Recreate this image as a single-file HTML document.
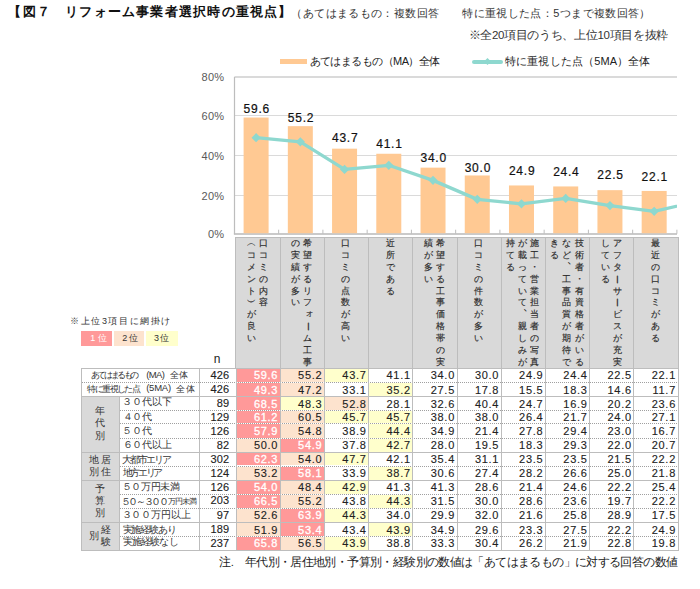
<!DOCTYPE html><html lang="ja"><head><meta charset="utf-8"><style>
*{margin:0;padding:0;box-sizing:border-box}
html,body{width:700px;height:589px;overflow:hidden;background:#fff}
body{position:relative;font-family:"Liberation Sans",sans-serif;color:#000}
.a{position:absolute;white-space:nowrap}
.hc{position:absolute;width:14px;height:14px;line-height:14px;text-align:center;font-size:9px;color:#2a2a2a;-webkit-text-stroke:0.15px #2a2a2a}
.gc{position:absolute;width:14px;height:14px;line-height:14px;text-align:center;font-size:9.5px;color:#333}
.c{position:absolute;white-space:nowrap;font-size:11px;line-height:13px;text-align:right;color:#222;-webkit-text-stroke:0.12px currentColor}
</style></head><body>
<div id="title" class="a" style="left:8.35px;top:3.38px;font-size:13px;line-height:17px;letter-spacing:1.213px;color:#111;font-weight:bold">【図７　リフォーム事業者選択時の重視点】</div>
<div id="sub" class="a" style="left:291.35px;top:5.65px;font-size:11px;line-height:14px;letter-spacing:0.387px;color:#333;">（あてはまるもの：複数回答　　特に重視した点：5つまで複数回答）</div>
<div id="note2" class="a" style="left:468.55px;top:27.53px;font-size:11.5px;line-height:14px;letter-spacing:-0.319px;color:#333;">※全20項目のうち、上位10項目を抜粋</div>
<div class="a" style="left:280px;top:59.2px;width:27px;height:5px;background:#FFC993"></div>
<div id="leg1" class="a" style="left:309.55px;top:54.38px;font-size:11px;line-height:14px;letter-spacing:-0.563px;color:#222;">あてはまるもの（MA）全体</div>
<div class="a" style="left:472px;top:60.2px;width:31px;height:3.5px;border-radius:2px;background:#8ED8CF"></div>
<div class="a" style="left:485px;top:59.2px;width:5px;height:5px;transform:rotate(45deg);background:#8ED8CF"></div>
<div id="leg2" class="a" style="left:505.00px;top:54.12px;font-size:11px;line-height:14px;letter-spacing:0.142px;color:#222;">特に重視した点（5MA）全体</div>
<div id="y80" class="a" style="left:149.45px;width:75px;text-align:right;top:70.35px;font-size:11px;line-height:14px;letter-spacing:0.325px;color:#595959">80%</div>
<div class="a" style="left:149.45px;width:75px;text-align:right;top:108.85px;font-size:11px;line-height:14px;letter-spacing:0.325px;color:#595959">60%</div>
<div class="a" style="left:149.45px;width:75px;text-align:right;top:148.85px;font-size:11px;line-height:14px;letter-spacing:0.325px;color:#595959">40%</div>
<div class="a" style="left:149.45px;width:75px;text-align:right;top:188.85px;font-size:11px;line-height:14px;letter-spacing:0.325px;color:#595959">20%</div>
<div class="a" style="left:149.45px;width:75px;text-align:right;top:227.25px;font-size:11px;line-height:14px;letter-spacing:0.325px;color:#595959">0%</div>
<svg class="a" style="left:0;top:0" width="700" height="589"><defs><clipPath id="cp"><rect x="234.4" y="67.0" width="442.6" height="167.2"/></clipPath></defs><rect x="234.4" y="115.00" width="442.6" height="1" fill="#DADADA"/><rect x="234.4" y="155.00" width="442.6" height="1" fill="#DADADA"/><rect x="234.4" y="195.00" width="442.6" height="1" fill="#DADADA"/><rect x="234.4" y="76.2" width="442.6" height="1.6" fill="#D2D2D2"/><rect x="233.9" y="77" width="1.2" height="157.20" fill="#BDBDBD"/><rect x="233.9" y="233.20" width="443.1" height="1.6" fill="#BDBDBD"/><rect x="278.15" y="229.70" width="1" height="4" fill="#BDBDBD"/><rect x="322.40" y="229.70" width="1" height="4" fill="#BDBDBD"/><rect x="366.65" y="229.70" width="1" height="4" fill="#BDBDBD"/><rect x="410.90" y="229.70" width="1" height="4" fill="#BDBDBD"/><rect x="455.15" y="229.70" width="1" height="4" fill="#BDBDBD"/><rect x="499.40" y="229.70" width="1" height="4" fill="#BDBDBD"/><rect x="543.65" y="229.70" width="1" height="4" fill="#BDBDBD"/><rect x="587.90" y="229.70" width="1" height="4" fill="#BDBDBD"/><rect x="632.15" y="229.70" width="1" height="4" fill="#BDBDBD"/><rect x="676.40" y="229.70" width="1" height="4" fill="#BDBDBD"/><rect x="243.60" y="117.53" width="25.0" height="115.67" fill="#FFC993"/><rect x="287.83" y="126.15" width="25.0" height="107.05" fill="#FFC993"/><rect x="332.06" y="148.66" width="25.0" height="84.54" fill="#FFC993"/><rect x="376.29" y="153.75" width="25.0" height="79.45" fill="#FFC993"/><rect x="420.52" y="167.64" width="25.0" height="65.56" fill="#FFC993"/><rect x="464.75" y="175.47" width="25.0" height="57.72" fill="#FFC993"/><rect x="508.98" y="185.46" width="25.0" height="47.74" fill="#FFC993"/><rect x="553.21" y="186.44" width="25.0" height="46.76" fill="#FFC993"/><rect x="597.44" y="190.16" width="25.0" height="43.04" fill="#FFC993"/><rect x="641.67" y="190.94" width="25.0" height="42.26" fill="#FFC993"/><path d="M256.10,137.70 L300.33,141.81 L344.56,169.41 L388.79,165.30 L433.02,180.37 L477.25,199.36 L521.48,203.86 L565.71,198.38 L609.94,205.62 L654.17,211.30 L698.40,201.31" fill="none" stroke="#8ED8CF" stroke-width="3.3" stroke-linejoin="round" clip-path="url(#cp)"/><path d="M256.10,133.10 L260.70,137.70 L256.10,142.30 L251.50,137.70Z" fill="#8ED8CF"/><path d="M300.33,137.21 L304.93,141.81 L300.33,146.41 L295.73,141.81Z" fill="#8ED8CF"/><path d="M344.56,164.81 L349.16,169.41 L344.56,174.01 L339.96,169.41Z" fill="#8ED8CF"/><path d="M388.79,160.70 L393.39,165.30 L388.79,169.90 L384.19,165.30Z" fill="#8ED8CF"/><path d="M433.02,175.77 L437.62,180.37 L433.02,184.97 L428.42,180.37Z" fill="#8ED8CF"/><path d="M477.25,194.76 L481.85,199.36 L477.25,203.96 L472.65,199.36Z" fill="#8ED8CF"/><path d="M521.48,199.26 L526.08,203.86 L521.48,208.46 L516.88,203.86Z" fill="#8ED8CF"/><path d="M565.71,193.78 L570.31,198.38 L565.71,202.98 L561.11,198.38Z" fill="#8ED8CF"/><path d="M609.94,201.02 L614.54,205.62 L609.94,210.22 L605.34,205.62Z" fill="#8ED8CF"/><path d="M654.17,206.70 L658.77,211.30 L654.17,215.90 L649.57,211.30Z" fill="#8ED8CF"/></svg>
<div id="b0" class="a" style="left:231.75px;width:50px;text-align:center;top:102.48px;font-size:12px;line-height:14px;letter-spacing:0.767px;color:#111;-webkit-text-stroke:0.2px #111">59.6</div>
<div class="a" style="left:275.98px;width:50px;text-align:center;top:110.98px;font-size:12px;line-height:14px;letter-spacing:0.767px;color:#111;-webkit-text-stroke:0.2px #111">55.2</div>
<div class="a" style="left:320.21px;width:50px;text-align:center;top:131.48px;font-size:12px;line-height:14px;letter-spacing:0.767px;color:#111;-webkit-text-stroke:0.2px #111">43.7</div>
<div class="a" style="left:364.44px;width:50px;text-align:center;top:136.58px;font-size:12px;line-height:14px;letter-spacing:0.767px;color:#111;-webkit-text-stroke:0.2px #111">41.1</div>
<div class="a" style="left:408.67px;width:50px;text-align:center;top:151.18px;font-size:12px;line-height:14px;letter-spacing:0.767px;color:#111;-webkit-text-stroke:0.2px #111">34.0</div>
<div class="a" style="left:452.90px;width:50px;text-align:center;top:160.98px;font-size:12px;line-height:14px;letter-spacing:0.767px;color:#111;-webkit-text-stroke:0.2px #111">30.0</div>
<div class="a" style="left:497.13px;width:50px;text-align:center;top:163.98px;font-size:12px;line-height:14px;letter-spacing:0.767px;color:#111;-webkit-text-stroke:0.2px #111">24.9</div>
<div class="a" style="left:541.36px;width:50px;text-align:center;top:165.28px;font-size:12px;line-height:14px;letter-spacing:0.767px;color:#111;-webkit-text-stroke:0.2px #111">24.4</div>
<div class="a" style="left:585.59px;width:50px;text-align:center;top:168.38px;font-size:12px;line-height:14px;letter-spacing:0.767px;color:#111;-webkit-text-stroke:0.2px #111">22.5</div>
<div class="a" style="left:629.82px;width:50px;text-align:center;top:169.68px;font-size:12px;line-height:14px;letter-spacing:0.767px;color:#111;-webkit-text-stroke:0.2px #111">22.1</div>
<div class="a" style="left:235.0px;top:236.6px;width:443.6px;height:131.6px;background:#D9D9D9;border:1px solid #BDBDBD;border-bottom:0"></div>
<div class="a" style="left:279.7px;top:236.6px;width:1px;height:131.6px;background:#BDBDBD"></div>
<div class="a" style="left:323.9px;top:236.6px;width:1px;height:131.6px;background:#BDBDBD"></div>
<div class="a" style="left:368.1px;top:236.6px;width:1px;height:131.6px;background:#BDBDBD"></div>
<div class="a" style="left:412.3px;top:236.6px;width:1px;height:131.6px;background:#BDBDBD"></div>
<div class="a" style="left:456.5px;top:236.6px;width:1px;height:131.6px;background:#BDBDBD"></div>
<div class="a" style="left:500.7px;top:236.6px;width:1px;height:131.6px;background:#BDBDBD"></div>
<div class="a" style="left:544.9px;top:236.6px;width:1px;height:131.6px;background:#BDBDBD"></div>
<div class="a" style="left:589.1px;top:236.6px;width:1px;height:131.6px;background:#BDBDBD"></div>
<div class="a" style="left:633.3px;top:236.6px;width:1px;height:131.6px;background:#BDBDBD"></div>
<div class="hc" style="left:256.60px;top:236.10px;">口</div>
<div class="hc" style="left:256.60px;top:247.97px;">コ</div>
<div class="hc" style="left:256.60px;top:259.84px;">ミ</div>
<div class="hc" style="left:256.60px;top:271.71px;">の</div>
<div class="hc" style="left:256.60px;top:283.58px;">内</div>
<div class="hc" style="left:256.60px;top:295.45px;">容</div>
<div class="hc" style="left:244.40px;top:236.10px;">︵</div>
<div class="hc" style="left:244.40px;top:247.97px;">コ</div>
<div class="hc" style="left:244.40px;top:259.84px;">メ</div>
<div class="hc" style="left:244.40px;top:271.71px;">ン</div>
<div class="hc" style="left:244.40px;top:283.58px;">ト</div>
<div class="hc" style="left:244.40px;top:295.45px;">︶</div>
<div class="hc" style="left:244.40px;top:307.32px;">が</div>
<div class="hc" style="left:244.40px;top:319.19px;">良</div>
<div class="hc" style="left:244.40px;top:331.06px;">い</div>
<div class="hc" style="left:300.80px;top:236.10px;">希</div>
<div class="hc" style="left:300.80px;top:247.97px;">望</div>
<div class="hc" style="left:300.80px;top:259.84px;">す</div>
<div class="hc" style="left:300.80px;top:271.71px;">る</div>
<div class="hc" style="left:300.80px;top:283.58px;">リ</div>
<div class="hc" style="left:300.80px;top:295.45px;">フ</div>
<div class="hc" style="left:300.80px;top:307.32px;transform:translate(1.5px,-1.5px);">ォ</div>
<div class="hc" style="left:300.80px;top:319.19px;transform:rotate(90deg);">ー</div>
<div class="hc" style="left:300.80px;top:331.06px;">ム</div>
<div class="hc" style="left:300.80px;top:342.93px;">工</div>
<div class="hc" style="left:300.80px;top:354.80px;">事</div>
<div class="hc" style="left:288.60px;top:236.10px;">の</div>
<div class="hc" style="left:288.60px;top:247.97px;">実</div>
<div class="hc" style="left:288.60px;top:259.84px;">績</div>
<div class="hc" style="left:288.60px;top:271.71px;">が</div>
<div class="hc" style="left:288.60px;top:283.58px;">多</div>
<div class="hc" style="left:288.60px;top:295.45px;">い</div>
<div class="hc" style="left:338.90px;top:236.10px;">口</div>
<div class="hc" style="left:338.90px;top:247.97px;">コ</div>
<div class="hc" style="left:338.90px;top:259.84px;">ミ</div>
<div class="hc" style="left:338.90px;top:271.71px;">の</div>
<div class="hc" style="left:338.90px;top:283.58px;">点</div>
<div class="hc" style="left:338.90px;top:295.45px;">数</div>
<div class="hc" style="left:338.90px;top:307.32px;">が</div>
<div class="hc" style="left:338.90px;top:319.19px;">高</div>
<div class="hc" style="left:338.90px;top:331.06px;">い</div>
<div class="hc" style="left:383.10px;top:236.10px;">近</div>
<div class="hc" style="left:383.10px;top:247.97px;">所</div>
<div class="hc" style="left:383.10px;top:259.84px;">で</div>
<div class="hc" style="left:383.10px;top:271.71px;">あ</div>
<div class="hc" style="left:383.10px;top:283.58px;">る</div>
<div class="hc" style="left:433.40px;top:236.10px;">希</div>
<div class="hc" style="left:433.40px;top:247.97px;">望</div>
<div class="hc" style="left:433.40px;top:259.84px;">す</div>
<div class="hc" style="left:433.40px;top:271.71px;">る</div>
<div class="hc" style="left:433.40px;top:283.58px;">工</div>
<div class="hc" style="left:433.40px;top:295.45px;">事</div>
<div class="hc" style="left:433.40px;top:307.32px;">価</div>
<div class="hc" style="left:433.40px;top:319.19px;">格</div>
<div class="hc" style="left:433.40px;top:331.06px;">帯</div>
<div class="hc" style="left:433.40px;top:342.93px;">の</div>
<div class="hc" style="left:433.40px;top:354.80px;">実</div>
<div class="hc" style="left:421.20px;top:236.10px;">績</div>
<div class="hc" style="left:421.20px;top:247.97px;">が</div>
<div class="hc" style="left:421.20px;top:259.84px;">多</div>
<div class="hc" style="left:421.20px;top:271.71px;">い</div>
<div class="hc" style="left:471.50px;top:236.10px;">口</div>
<div class="hc" style="left:471.50px;top:247.97px;">コ</div>
<div class="hc" style="left:471.50px;top:259.84px;">ミ</div>
<div class="hc" style="left:471.50px;top:271.71px;">の</div>
<div class="hc" style="left:471.50px;top:283.58px;">件</div>
<div class="hc" style="left:471.50px;top:295.45px;">数</div>
<div class="hc" style="left:471.50px;top:307.32px;">が</div>
<div class="hc" style="left:471.50px;top:319.19px;">多</div>
<div class="hc" style="left:471.50px;top:331.06px;">い</div>
<div class="hc" style="left:527.90px;top:236.10px;">施</div>
<div class="hc" style="left:527.90px;top:247.97px;">工</div>
<div class="hc" style="left:527.90px;top:259.84px;">・</div>
<div class="hc" style="left:527.90px;top:271.71px;">営</div>
<div class="hc" style="left:527.90px;top:283.58px;">業</div>
<div class="hc" style="left:527.90px;top:295.45px;">担</div>
<div class="hc" style="left:527.90px;top:307.32px;">当</div>
<div class="hc" style="left:527.90px;top:319.19px;">者</div>
<div class="hc" style="left:527.90px;top:331.06px;">の</div>
<div class="hc" style="left:527.90px;top:342.93px;">写</div>
<div class="hc" style="left:527.90px;top:354.80px;">真</div>
<div class="hc" style="left:515.70px;top:236.10px;">が</div>
<div class="hc" style="left:515.70px;top:247.97px;">載</div>
<div class="hc" style="left:515.70px;top:259.84px;">っ</div>
<div class="hc" style="left:515.70px;top:271.71px;">て</div>
<div class="hc" style="left:515.70px;top:283.58px;">い</div>
<div class="hc" style="left:515.70px;top:295.45px;">て</div>
<div class="hc" style="left:515.70px;top:307.32px;">︑</div>
<div class="hc" style="left:515.70px;top:319.19px;">親</div>
<div class="hc" style="left:515.70px;top:331.06px;">し</div>
<div class="hc" style="left:515.70px;top:342.93px;">み</div>
<div class="hc" style="left:515.70px;top:354.80px;">が</div>
<div class="hc" style="left:503.50px;top:236.10px;">持</div>
<div class="hc" style="left:503.50px;top:247.97px;">て</div>
<div class="hc" style="left:503.50px;top:259.84px;">る</div>
<div class="hc" style="left:572.10px;top:236.10px;">技</div>
<div class="hc" style="left:572.10px;top:247.97px;">術</div>
<div class="hc" style="left:572.10px;top:259.84px;">者</div>
<div class="hc" style="left:572.10px;top:271.71px;">・</div>
<div class="hc" style="left:572.10px;top:283.58px;">有</div>
<div class="hc" style="left:572.10px;top:295.45px;">資</div>
<div class="hc" style="left:572.10px;top:307.32px;">格</div>
<div class="hc" style="left:572.10px;top:319.19px;">者</div>
<div class="hc" style="left:572.10px;top:331.06px;">が</div>
<div class="hc" style="left:572.10px;top:342.93px;">い</div>
<div class="hc" style="left:572.10px;top:354.80px;">る</div>
<div class="hc" style="left:559.90px;top:236.10px;">な</div>
<div class="hc" style="left:559.90px;top:247.97px;">ど</div>
<div class="hc" style="left:559.90px;top:259.84px;">︑</div>
<div class="hc" style="left:559.90px;top:271.71px;">工</div>
<div class="hc" style="left:559.90px;top:283.58px;">事</div>
<div class="hc" style="left:559.90px;top:295.45px;">品</div>
<div class="hc" style="left:559.90px;top:307.32px;">質</div>
<div class="hc" style="left:559.90px;top:319.19px;">が</div>
<div class="hc" style="left:559.90px;top:331.06px;">期</div>
<div class="hc" style="left:559.90px;top:342.93px;">待</div>
<div class="hc" style="left:559.90px;top:354.80px;">で</div>
<div class="hc" style="left:547.70px;top:236.10px;">き</div>
<div class="hc" style="left:547.70px;top:247.97px;">る</div>
<div class="hc" style="left:610.20px;top:236.10px;">ア</div>
<div class="hc" style="left:610.20px;top:247.97px;">フ</div>
<div class="hc" style="left:610.20px;top:259.84px;">タ</div>
<div class="hc" style="left:610.20px;top:271.71px;transform:rotate(90deg);">ー</div>
<div class="hc" style="left:610.20px;top:283.58px;">サ</div>
<div class="hc" style="left:610.20px;top:295.45px;transform:rotate(90deg);">ー</div>
<div class="hc" style="left:610.20px;top:307.32px;">ビ</div>
<div class="hc" style="left:610.20px;top:319.19px;">ス</div>
<div class="hc" style="left:610.20px;top:331.06px;">が</div>
<div class="hc" style="left:610.20px;top:342.93px;">充</div>
<div class="hc" style="left:610.20px;top:354.80px;">実</div>
<div class="hc" style="left:598.00px;top:236.10px;">し</div>
<div class="hc" style="left:598.00px;top:247.97px;">て</div>
<div class="hc" style="left:598.00px;top:259.84px;">い</div>
<div class="hc" style="left:598.00px;top:271.71px;">る</div>
<div class="hc" style="left:648.30px;top:236.10px;">最</div>
<div class="hc" style="left:648.30px;top:247.97px;">近</div>
<div class="hc" style="left:648.30px;top:259.84px;">の</div>
<div class="hc" style="left:648.30px;top:271.71px;">口</div>
<div class="hc" style="left:648.30px;top:283.58px;">コ</div>
<div class="hc" style="left:648.30px;top:295.45px;">ミ</div>
<div class="hc" style="left:648.30px;top:307.32px;">が</div>
<div class="hc" style="left:648.30px;top:319.19px;">あ</div>
<div class="hc" style="left:648.30px;top:331.06px;">る</div>
<div id="hl" class="a" style="left:70.25px;top:315.38px;font-size:9px;line-height:13px;letter-spacing:1.561px;color:#333;">※上位3項目に網掛け</div>
<div class="a" style="left:81.3px;top:330.9px;width:31px;height:14.8px;background:#FF9999"></div>
<div class="a" style="left:114.2px;top:330.9px;width:30px;height:14.8px;background:#FDE3CE"></div>
<div class="a" style="left:145.6px;top:330.9px;width:32.6px;height:14.8px;background:#FFFFCC"></div>
<div id="p1" class="a" style="left:90.15px;top:332.47px;font-size:9px;line-height:13px;letter-spacing:0.125px;color:#fff;">1 位</div>
<div id="p2" class="a" style="left:122.25px;top:332.47px;font-size:9px;line-height:13px;letter-spacing:1.250px;color:#333;">2位</div>
<div id="p3" class="a" style="left:153.90px;top:332.47px;font-size:9px;line-height:13px;letter-spacing:-0.475px;color:#333;">3 位</div>
<div id="n" class="a" style="left:213.85px;top:352.17px;font-size:12px;line-height:14px;letter-spacing:0.000px;color:#222;">n</div>
<div class="a" style="left:81.3px;top:367.5px;width:597.4px;height:183.5px;background:#fff;border:1px solid #BDBDBD"></div>
<div class="a" style="left:236.50px;top:368.50px;width:43.20px;height:13.50px;background:#FF9999"></div>
<div id="v0" class="c" style="left:237.00px;width:41.20px;top:369.42px;letter-spacing:0.717px;color:#fff;-webkit-text-stroke:0.3px #fff">59.6</div>
<div class="a" style="left:280.70px;top:368.50px;width:43.20px;height:13.50px;background:#FDE3CE"></div>
<div class="c" style="left:281.20px;width:41.20px;top:369.42px;letter-spacing:0.717px;color:#222">55.2</div>
<div class="a" style="left:324.90px;top:368.50px;width:43.20px;height:13.50px;background:#FFFFCC"></div>
<div class="c" style="left:325.40px;width:41.20px;top:369.42px;letter-spacing:0.717px;color:#222">43.7</div>
<div class="c" style="left:369.60px;width:41.20px;top:369.42px;letter-spacing:0.717px;color:#222">41.1</div>
<div class="c" style="left:413.80px;width:41.20px;top:369.42px;letter-spacing:0.717px;color:#222">34.0</div>
<div class="c" style="left:458.00px;width:41.20px;top:369.42px;letter-spacing:0.717px;color:#222">30.0</div>
<div class="c" style="left:502.20px;width:41.20px;top:369.42px;letter-spacing:0.717px;color:#222">24.9</div>
<div class="c" style="left:546.40px;width:41.20px;top:369.42px;letter-spacing:0.717px;color:#222">24.4</div>
<div class="c" style="left:590.60px;width:41.20px;top:369.42px;letter-spacing:0.717px;color:#222">22.5</div>
<div class="c" style="left:634.80px;width:41.20px;top:369.42px;letter-spacing:0.717px;color:#222">22.1</div>
<div id="n426" class="c" style="left:198.80px;width:30.40px;top:368.73px;letter-spacing:0.100px">426</div>
<div class="a" style="left:81.8px;top:382.00px;width:596.2px;height:1px;background-image:linear-gradient(90deg,#A0A0A0 50%,rgba(255,255,255,0) 50%);background-size:2px 1px"></div>
<div class="a" style="left:236.50px;top:383.00px;width:43.20px;height:12.80px;background:#FF9999"></div>
<div class="c" style="left:237.00px;width:41.20px;top:383.57px;letter-spacing:0.717px;color:#fff;-webkit-text-stroke:0.3px #fff">49.3</div>
<div class="a" style="left:280.70px;top:383.00px;width:43.20px;height:12.80px;background:#FDE3CE"></div>
<div class="c" style="left:281.20px;width:41.20px;top:383.57px;letter-spacing:0.717px;color:#222">47.2</div>
<div class="c" style="left:325.40px;width:41.20px;top:383.57px;letter-spacing:0.717px;color:#222">33.1</div>
<div class="a" style="left:369.10px;top:383.00px;width:43.20px;height:12.80px;background:#FFFFCC"></div>
<div class="c" style="left:369.60px;width:41.20px;top:383.57px;letter-spacing:0.717px;color:#222">35.2</div>
<div class="c" style="left:413.80px;width:41.20px;top:383.57px;letter-spacing:0.717px;color:#222">27.5</div>
<div class="c" style="left:458.00px;width:41.20px;top:383.57px;letter-spacing:0.717px;color:#222">17.8</div>
<div class="c" style="left:502.20px;width:41.20px;top:383.57px;letter-spacing:0.717px;color:#222">15.5</div>
<div class="c" style="left:546.40px;width:41.20px;top:383.57px;letter-spacing:0.717px;color:#222">18.3</div>
<div class="c" style="left:590.60px;width:41.20px;top:383.57px;letter-spacing:0.717px;color:#222">14.6</div>
<div class="c" style="left:634.80px;width:41.20px;top:383.57px;letter-spacing:0.717px;color:#222">11.7</div>
<div class="c" style="left:198.80px;width:30.40px;top:382.88px;letter-spacing:0.100px">426</div>
<div class="a" style="left:81.8px;top:395.80px;width:596.2px;height:1.2px;background:#BDBDBD"></div>
<div class="a" style="left:236.50px;top:396.80px;width:43.20px;height:13.20px;background:#FF9999"></div>
<div class="c" style="left:237.00px;width:41.20px;top:397.57px;letter-spacing:0.717px;color:#fff;-webkit-text-stroke:0.3px #fff">68.5</div>
<div class="a" style="left:280.70px;top:396.80px;width:43.20px;height:13.20px;background:#FFFFCC"></div>
<div class="c" style="left:281.20px;width:41.20px;top:397.57px;letter-spacing:0.717px;color:#222">48.3</div>
<div class="a" style="left:324.90px;top:396.80px;width:43.20px;height:13.20px;background:#FDE3CE"></div>
<div class="c" style="left:325.40px;width:41.20px;top:397.57px;letter-spacing:0.717px;color:#222">52.8</div>
<div class="c" style="left:369.60px;width:41.20px;top:397.57px;letter-spacing:0.717px;color:#222">28.1</div>
<div class="c" style="left:413.80px;width:41.20px;top:397.57px;letter-spacing:0.717px;color:#222">32.6</div>
<div class="c" style="left:458.00px;width:41.20px;top:397.57px;letter-spacing:0.717px;color:#222">40.4</div>
<div class="c" style="left:502.20px;width:41.20px;top:397.57px;letter-spacing:0.717px;color:#222">24.7</div>
<div class="c" style="left:546.40px;width:41.20px;top:397.57px;letter-spacing:0.717px;color:#222">16.9</div>
<div class="c" style="left:590.60px;width:41.20px;top:397.57px;letter-spacing:0.717px;color:#222">20.2</div>
<div class="c" style="left:634.80px;width:41.20px;top:397.57px;letter-spacing:0.717px;color:#222">23.6</div>
<div class="c" style="left:198.80px;width:30.40px;top:396.88px;letter-spacing:0.100px">89</div>
<div class="a" style="left:119.6px;top:410.00px;width:558.4px;height:1px;background-image:linear-gradient(90deg,#A0A0A0 50%,rgba(255,255,255,0) 50%);background-size:2px 1px"></div>
<div class="a" style="left:236.50px;top:411.00px;width:43.20px;height:12.40px;background:#FF9999"></div>
<div class="c" style="left:237.00px;width:41.20px;top:411.37px;letter-spacing:0.717px;color:#fff;-webkit-text-stroke:0.3px #fff">61.2</div>
<div class="a" style="left:280.70px;top:411.00px;width:43.20px;height:12.40px;background:#FDE3CE"></div>
<div class="c" style="left:281.20px;width:41.20px;top:411.37px;letter-spacing:0.717px;color:#222">60.5</div>
<div class="a" style="left:324.90px;top:411.00px;width:43.20px;height:12.40px;background:#FFFFCC"></div>
<div class="c" style="left:325.40px;width:41.20px;top:411.37px;letter-spacing:0.717px;color:#222">45.7</div>
<div class="a" style="left:369.10px;top:411.00px;width:43.20px;height:12.40px;background:#FFFFCC"></div>
<div class="c" style="left:369.60px;width:41.20px;top:411.37px;letter-spacing:0.717px;color:#222">45.7</div>
<div class="c" style="left:413.80px;width:41.20px;top:411.37px;letter-spacing:0.717px;color:#222">38.0</div>
<div class="c" style="left:458.00px;width:41.20px;top:411.37px;letter-spacing:0.717px;color:#222">38.0</div>
<div class="c" style="left:502.20px;width:41.20px;top:411.37px;letter-spacing:0.717px;color:#222">26.4</div>
<div class="c" style="left:546.40px;width:41.20px;top:411.37px;letter-spacing:0.717px;color:#222">21.7</div>
<div class="c" style="left:590.60px;width:41.20px;top:411.37px;letter-spacing:0.717px;color:#222">24.0</div>
<div class="c" style="left:634.80px;width:41.20px;top:411.37px;letter-spacing:0.717px;color:#222">27.1</div>
<div class="c" style="left:198.80px;width:30.40px;top:410.68px;letter-spacing:0.100px">129</div>
<div class="a" style="left:119.6px;top:423.40px;width:558.4px;height:1px;background-image:linear-gradient(90deg,#A0A0A0 50%,rgba(255,255,255,0) 50%);background-size:2px 1px"></div>
<div class="a" style="left:236.50px;top:424.40px;width:43.20px;height:13.30px;background:#FF9999"></div>
<div class="c" style="left:237.00px;width:41.20px;top:425.22px;letter-spacing:0.717px;color:#fff;-webkit-text-stroke:0.3px #fff">57.9</div>
<div class="a" style="left:280.70px;top:424.40px;width:43.20px;height:13.30px;background:#FDE3CE"></div>
<div class="c" style="left:281.20px;width:41.20px;top:425.22px;letter-spacing:0.717px;color:#222">54.8</div>
<div class="c" style="left:325.40px;width:41.20px;top:425.22px;letter-spacing:0.717px;color:#222">38.9</div>
<div class="a" style="left:369.10px;top:424.40px;width:43.20px;height:13.30px;background:#FFFFCC"></div>
<div class="c" style="left:369.60px;width:41.20px;top:425.22px;letter-spacing:0.717px;color:#222">44.4</div>
<div class="c" style="left:413.80px;width:41.20px;top:425.22px;letter-spacing:0.717px;color:#222">34.9</div>
<div class="c" style="left:458.00px;width:41.20px;top:425.22px;letter-spacing:0.717px;color:#222">21.4</div>
<div class="c" style="left:502.20px;width:41.20px;top:425.22px;letter-spacing:0.717px;color:#222">27.8</div>
<div class="c" style="left:546.40px;width:41.20px;top:425.22px;letter-spacing:0.717px;color:#222">29.4</div>
<div class="c" style="left:590.60px;width:41.20px;top:425.22px;letter-spacing:0.717px;color:#222">23.0</div>
<div class="c" style="left:634.80px;width:41.20px;top:425.22px;letter-spacing:0.717px;color:#222">16.7</div>
<div class="c" style="left:198.80px;width:30.40px;top:424.53px;letter-spacing:0.100px">126</div>
<div class="a" style="left:119.6px;top:437.70px;width:558.4px;height:1px;background-image:linear-gradient(90deg,#A0A0A0 50%,rgba(255,255,255,0) 50%);background-size:2px 1px"></div>
<div class="a" style="left:236.50px;top:438.70px;width:43.20px;height:13.20px;background:#FDE3CE"></div>
<div class="c" style="left:237.00px;width:41.20px;top:439.47px;letter-spacing:0.717px;color:#222">50.0</div>
<div class="a" style="left:280.70px;top:438.70px;width:43.20px;height:13.20px;background:#FF9999"></div>
<div class="c" style="left:281.20px;width:41.20px;top:439.47px;letter-spacing:0.717px;color:#fff;-webkit-text-stroke:0.3px #fff">54.9</div>
<div class="c" style="left:325.40px;width:41.20px;top:439.47px;letter-spacing:0.717px;color:#222">37.8</div>
<div class="a" style="left:369.10px;top:438.70px;width:43.20px;height:13.20px;background:#FFFFCC"></div>
<div class="c" style="left:369.60px;width:41.20px;top:439.47px;letter-spacing:0.717px;color:#222">42.7</div>
<div class="c" style="left:413.80px;width:41.20px;top:439.47px;letter-spacing:0.717px;color:#222">28.0</div>
<div class="c" style="left:458.00px;width:41.20px;top:439.47px;letter-spacing:0.717px;color:#222">19.5</div>
<div class="c" style="left:502.20px;width:41.20px;top:439.47px;letter-spacing:0.717px;color:#222">18.3</div>
<div class="c" style="left:546.40px;width:41.20px;top:439.47px;letter-spacing:0.717px;color:#222">29.3</div>
<div class="c" style="left:590.60px;width:41.20px;top:439.47px;letter-spacing:0.717px;color:#222">22.0</div>
<div class="c" style="left:634.80px;width:41.20px;top:439.47px;letter-spacing:0.717px;color:#222">20.7</div>
<div class="c" style="left:198.80px;width:30.40px;top:438.78px;letter-spacing:0.100px">82</div>
<div class="a" style="left:81.8px;top:451.90px;width:596.2px;height:1.2px;background:#BDBDBD"></div>
<div class="a" style="left:236.50px;top:452.90px;width:43.20px;height:12.60px;background:#FF9999"></div>
<div class="c" style="left:237.00px;width:41.20px;top:453.37px;letter-spacing:0.717px;color:#fff;-webkit-text-stroke:0.3px #fff">62.3</div>
<div class="a" style="left:280.70px;top:452.90px;width:43.20px;height:12.60px;background:#FDE3CE"></div>
<div class="c" style="left:281.20px;width:41.20px;top:453.37px;letter-spacing:0.717px;color:#222">54.0</div>
<div class="a" style="left:324.90px;top:452.90px;width:43.20px;height:12.60px;background:#FFFFCC"></div>
<div class="c" style="left:325.40px;width:41.20px;top:453.37px;letter-spacing:0.717px;color:#222">47.7</div>
<div class="c" style="left:369.60px;width:41.20px;top:453.37px;letter-spacing:0.717px;color:#222">42.1</div>
<div class="c" style="left:413.80px;width:41.20px;top:453.37px;letter-spacing:0.717px;color:#222">35.4</div>
<div class="c" style="left:458.00px;width:41.20px;top:453.37px;letter-spacing:0.717px;color:#222">31.1</div>
<div class="c" style="left:502.20px;width:41.20px;top:453.37px;letter-spacing:0.717px;color:#222">23.5</div>
<div class="c" style="left:546.40px;width:41.20px;top:453.37px;letter-spacing:0.717px;color:#222">23.5</div>
<div class="c" style="left:590.60px;width:41.20px;top:453.37px;letter-spacing:0.717px;color:#222">21.5</div>
<div class="c" style="left:634.80px;width:41.20px;top:453.37px;letter-spacing:0.717px;color:#222">22.2</div>
<div class="c" style="left:198.80px;width:30.40px;top:452.68px;letter-spacing:0.100px">302</div>
<div class="a" style="left:119.6px;top:465.50px;width:558.4px;height:1px;background-image:linear-gradient(90deg,#A0A0A0 50%,rgba(255,255,255,0) 50%);background-size:2px 1px"></div>
<div class="a" style="left:236.50px;top:466.50px;width:43.20px;height:13.50px;background:#FDE3CE"></div>
<div class="c" style="left:237.00px;width:41.20px;top:467.42px;letter-spacing:0.717px;color:#222">53.2</div>
<div class="a" style="left:280.70px;top:466.50px;width:43.20px;height:13.50px;background:#FF9999"></div>
<div class="c" style="left:281.20px;width:41.20px;top:467.42px;letter-spacing:0.717px;color:#fff;-webkit-text-stroke:0.3px #fff">58.1</div>
<div class="c" style="left:325.40px;width:41.20px;top:467.42px;letter-spacing:0.717px;color:#222">33.9</div>
<div class="a" style="left:369.10px;top:466.50px;width:43.20px;height:13.50px;background:#FFFFCC"></div>
<div class="c" style="left:369.60px;width:41.20px;top:467.42px;letter-spacing:0.717px;color:#222">38.7</div>
<div class="c" style="left:413.80px;width:41.20px;top:467.42px;letter-spacing:0.717px;color:#222">30.6</div>
<div class="c" style="left:458.00px;width:41.20px;top:467.42px;letter-spacing:0.717px;color:#222">27.4</div>
<div class="c" style="left:502.20px;width:41.20px;top:467.42px;letter-spacing:0.717px;color:#222">28.2</div>
<div class="c" style="left:546.40px;width:41.20px;top:467.42px;letter-spacing:0.717px;color:#222">26.6</div>
<div class="c" style="left:590.60px;width:41.20px;top:467.42px;letter-spacing:0.717px;color:#222">25.0</div>
<div class="c" style="left:634.80px;width:41.20px;top:467.42px;letter-spacing:0.717px;color:#222">21.8</div>
<div class="c" style="left:198.80px;width:30.40px;top:466.73px;letter-spacing:0.100px">124</div>
<div class="a" style="left:81.8px;top:480.00px;width:596.2px;height:1.2px;background:#BDBDBD"></div>
<div class="a" style="left:236.50px;top:481.00px;width:43.20px;height:12.50px;background:#FF9999"></div>
<div class="c" style="left:237.00px;width:41.20px;top:481.42px;letter-spacing:0.717px;color:#fff;-webkit-text-stroke:0.3px #fff">54.0</div>
<div class="a" style="left:280.70px;top:481.00px;width:43.20px;height:12.50px;background:#FDE3CE"></div>
<div class="c" style="left:281.20px;width:41.20px;top:481.42px;letter-spacing:0.717px;color:#222">48.4</div>
<div class="a" style="left:324.90px;top:481.00px;width:43.20px;height:12.50px;background:#FFFFCC"></div>
<div class="c" style="left:325.40px;width:41.20px;top:481.42px;letter-spacing:0.717px;color:#222">42.9</div>
<div class="c" style="left:369.60px;width:41.20px;top:481.42px;letter-spacing:0.717px;color:#222">41.3</div>
<div class="c" style="left:413.80px;width:41.20px;top:481.42px;letter-spacing:0.717px;color:#222">41.3</div>
<div class="c" style="left:458.00px;width:41.20px;top:481.42px;letter-spacing:0.717px;color:#222">28.6</div>
<div class="c" style="left:502.20px;width:41.20px;top:481.42px;letter-spacing:0.717px;color:#222">21.4</div>
<div class="c" style="left:546.40px;width:41.20px;top:481.42px;letter-spacing:0.717px;color:#222">24.6</div>
<div class="c" style="left:590.60px;width:41.20px;top:481.42px;letter-spacing:0.717px;color:#222">22.2</div>
<div class="c" style="left:634.80px;width:41.20px;top:481.42px;letter-spacing:0.717px;color:#222">25.4</div>
<div class="c" style="left:198.80px;width:30.40px;top:480.73px;letter-spacing:0.100px">126</div>
<div class="a" style="left:119.6px;top:493.50px;width:558.4px;height:1px;background-image:linear-gradient(90deg,#A0A0A0 50%,rgba(255,255,255,0) 50%);background-size:2px 1px"></div>
<div class="a" style="left:236.50px;top:494.50px;width:43.20px;height:13.00px;background:#FF9999"></div>
<div class="c" style="left:237.00px;width:41.20px;top:495.17px;letter-spacing:0.717px;color:#fff;-webkit-text-stroke:0.3px #fff">66.5</div>
<div class="a" style="left:280.70px;top:494.50px;width:43.20px;height:13.00px;background:#FDE3CE"></div>
<div class="c" style="left:281.20px;width:41.20px;top:495.17px;letter-spacing:0.717px;color:#222">55.2</div>
<div class="c" style="left:325.40px;width:41.20px;top:495.17px;letter-spacing:0.717px;color:#222">43.8</div>
<div class="a" style="left:369.10px;top:494.50px;width:43.20px;height:13.00px;background:#FFFFCC"></div>
<div class="c" style="left:369.60px;width:41.20px;top:495.17px;letter-spacing:0.717px;color:#222">44.3</div>
<div class="c" style="left:413.80px;width:41.20px;top:495.17px;letter-spacing:0.717px;color:#222">31.5</div>
<div class="c" style="left:458.00px;width:41.20px;top:495.17px;letter-spacing:0.717px;color:#222">30.0</div>
<div class="c" style="left:502.20px;width:41.20px;top:495.17px;letter-spacing:0.717px;color:#222">28.6</div>
<div class="c" style="left:546.40px;width:41.20px;top:495.17px;letter-spacing:0.717px;color:#222">23.6</div>
<div class="c" style="left:590.60px;width:41.20px;top:495.17px;letter-spacing:0.717px;color:#222">19.7</div>
<div class="c" style="left:634.80px;width:41.20px;top:495.17px;letter-spacing:0.717px;color:#222">22.2</div>
<div class="c" style="left:198.80px;width:30.40px;top:494.48px;letter-spacing:0.100px">203</div>
<div class="a" style="left:119.6px;top:507.50px;width:558.4px;height:1px;background-image:linear-gradient(90deg,#A0A0A0 50%,rgba(255,255,255,0) 50%);background-size:2px 1px"></div>
<div class="a" style="left:236.50px;top:508.50px;width:43.20px;height:13.60px;background:#FDE3CE"></div>
<div class="c" style="left:237.00px;width:41.20px;top:509.47px;letter-spacing:0.717px;color:#222">52.6</div>
<div class="a" style="left:280.70px;top:508.50px;width:43.20px;height:13.60px;background:#FF9999"></div>
<div class="c" style="left:281.20px;width:41.20px;top:509.47px;letter-spacing:0.717px;color:#fff;-webkit-text-stroke:0.3px #fff">63.9</div>
<div class="a" style="left:324.90px;top:508.50px;width:43.20px;height:13.60px;background:#FFFFCC"></div>
<div class="c" style="left:325.40px;width:41.20px;top:509.47px;letter-spacing:0.717px;color:#222">44.3</div>
<div class="c" style="left:369.60px;width:41.20px;top:509.47px;letter-spacing:0.717px;color:#222">34.0</div>
<div class="c" style="left:413.80px;width:41.20px;top:509.47px;letter-spacing:0.717px;color:#222">29.9</div>
<div class="c" style="left:458.00px;width:41.20px;top:509.47px;letter-spacing:0.717px;color:#222">32.0</div>
<div class="c" style="left:502.20px;width:41.20px;top:509.47px;letter-spacing:0.717px;color:#222">21.6</div>
<div class="c" style="left:546.40px;width:41.20px;top:509.47px;letter-spacing:0.717px;color:#222">25.8</div>
<div class="c" style="left:590.60px;width:41.20px;top:509.47px;letter-spacing:0.717px;color:#222">28.9</div>
<div class="c" style="left:634.80px;width:41.20px;top:509.47px;letter-spacing:0.717px;color:#222">17.5</div>
<div class="c" style="left:198.80px;width:30.40px;top:508.78px;letter-spacing:0.100px">97</div>
<div class="a" style="left:81.8px;top:522.10px;width:596.2px;height:1.2px;background:#BDBDBD"></div>
<div class="a" style="left:236.50px;top:523.10px;width:43.20px;height:12.60px;background:#FDE3CE"></div>
<div class="c" style="left:237.00px;width:41.20px;top:523.57px;letter-spacing:0.717px;color:#222">51.9</div>
<div class="a" style="left:280.70px;top:523.10px;width:43.20px;height:12.60px;background:#FF9999"></div>
<div class="c" style="left:281.20px;width:41.20px;top:523.57px;letter-spacing:0.717px;color:#fff;-webkit-text-stroke:0.3px #fff">53.4</div>
<div class="c" style="left:325.40px;width:41.20px;top:523.57px;letter-spacing:0.717px;color:#222">43.4</div>
<div class="a" style="left:369.10px;top:523.10px;width:43.20px;height:12.60px;background:#FFFFCC"></div>
<div class="c" style="left:369.60px;width:41.20px;top:523.57px;letter-spacing:0.717px;color:#222">43.9</div>
<div class="c" style="left:413.80px;width:41.20px;top:523.57px;letter-spacing:0.717px;color:#222">34.9</div>
<div class="c" style="left:458.00px;width:41.20px;top:523.57px;letter-spacing:0.717px;color:#222">29.6</div>
<div class="c" style="left:502.20px;width:41.20px;top:523.57px;letter-spacing:0.717px;color:#222">23.3</div>
<div class="c" style="left:546.40px;width:41.20px;top:523.57px;letter-spacing:0.717px;color:#222">27.5</div>
<div class="c" style="left:590.60px;width:41.20px;top:523.57px;letter-spacing:0.717px;color:#222">22.2</div>
<div class="c" style="left:634.80px;width:41.20px;top:523.57px;letter-spacing:0.717px;color:#222">24.9</div>
<div class="c" style="left:198.80px;width:30.40px;top:522.88px;letter-spacing:0.100px">189</div>
<div class="a" style="left:119.6px;top:535.70px;width:558.4px;height:1px;background-image:linear-gradient(90deg,#A0A0A0 50%,rgba(255,255,255,0) 50%);background-size:2px 1px"></div>
<div class="a" style="left:236.50px;top:536.70px;width:43.20px;height:13.10px;background:#FF9999"></div>
<div class="c" style="left:237.00px;width:41.20px;top:537.42px;letter-spacing:0.717px;color:#fff;-webkit-text-stroke:0.3px #fff">65.8</div>
<div class="a" style="left:280.70px;top:536.70px;width:43.20px;height:13.10px;background:#FDE3CE"></div>
<div class="c" style="left:281.20px;width:41.20px;top:537.42px;letter-spacing:0.717px;color:#222">56.5</div>
<div class="a" style="left:324.90px;top:536.70px;width:43.20px;height:13.10px;background:#FFFFCC"></div>
<div class="c" style="left:325.40px;width:41.20px;top:537.42px;letter-spacing:0.717px;color:#222">43.9</div>
<div class="c" style="left:369.60px;width:41.20px;top:537.42px;letter-spacing:0.717px;color:#222">38.8</div>
<div class="c" style="left:413.80px;width:41.20px;top:537.42px;letter-spacing:0.717px;color:#222">33.3</div>
<div class="c" style="left:458.00px;width:41.20px;top:537.42px;letter-spacing:0.717px;color:#222">30.4</div>
<div class="c" style="left:502.20px;width:41.20px;top:537.42px;letter-spacing:0.717px;color:#222">26.2</div>
<div class="c" style="left:546.40px;width:41.20px;top:537.42px;letter-spacing:0.717px;color:#222">21.9</div>
<div class="c" style="left:590.60px;width:41.20px;top:537.42px;letter-spacing:0.717px;color:#222">22.8</div>
<div class="c" style="left:634.80px;width:41.20px;top:537.42px;letter-spacing:0.717px;color:#222">19.8</div>
<div class="c" style="left:198.80px;width:30.40px;top:536.73px;letter-spacing:0.100px">237</div>
<div class="a" style="left:199.10px;top:368.0px;width:1.2px;height:182.3px;background:#BDBDBD"></div>
<div class="a" style="left:235.50px;top:368.0px;width:1.2px;height:182.3px;background:#BDBDBD"></div>
<div class="a" style="left:279.70px;top:368.0px;width:1.2px;height:182.3px;background:#BDBDBD"></div>
<div class="a" style="left:323.90px;top:368.0px;width:1.2px;height:182.3px;background:#BDBDBD"></div>
<div class="a" style="left:368.10px;top:368.0px;width:1.2px;height:182.3px;background:#BDBDBD"></div>
<div class="a" style="left:412.30px;top:368.0px;width:1.2px;height:182.3px;background:#BDBDBD"></div>
<div class="a" style="left:456.50px;top:368.0px;width:1.2px;height:182.3px;background:#BDBDBD"></div>
<div class="a" style="left:500.70px;top:368.0px;width:1.2px;height:182.3px;background:#BDBDBD"></div>
<div class="a" style="left:544.90px;top:368.0px;width:1.2px;height:182.3px;background:#BDBDBD"></div>
<div class="a" style="left:589.10px;top:368.0px;width:1.2px;height:182.3px;background:#BDBDBD"></div>
<div class="a" style="left:633.30px;top:368.0px;width:1.2px;height:182.3px;background:#BDBDBD"></div>
<div id="r1a" class="a" style="left:90.85px;top:369.22px;font-size:9px;line-height:13px;letter-spacing:-2.408px;color:#333;">あてはまるもの</div>
<div id="r1b" class="a" style="left:146.15px;top:367.53px;font-size:9.5px;line-height:13px;letter-spacing:-0.617px;color:#333;">(MA)</div>
<div id="r1c" class="a" style="left:170.40px;top:369.38px;font-size:9px;line-height:13px;letter-spacing:-0.150px;color:#333;">全体</div>
<div id="r2a" class="a" style="left:87.30px;top:383.38px;font-size:9px;line-height:13px;letter-spacing:-1.567px;color:#333;">特に重視した点</div>
<div id="r2b" class="a" style="left:146.15px;top:381.25px;font-size:9.5px;line-height:13px;letter-spacing:-0.212px;color:#333;">(5MA)</div>
<div id="r2c" class="a" style="left:176.15px;top:383.38px;font-size:9px;line-height:13px;letter-spacing:0.600px;color:#333;">全体</div>
<div class="a" style="left:82.3px;top:396.8px;width:37.3px;height:55.1px;background:#D9D9D9"></div>
<div class="a" style="left:82.3px;top:452.9px;width:37.3px;height:27.1px;background:#D9D9D9"></div>
<div class="a" style="left:82.3px;top:481.0px;width:37.3px;height:41.1px;background:#D9D9D9"></div>
<div class="a" style="left:82.3px;top:523.1px;width:37.3px;height:26.7px;background:#D9D9D9"></div>
<div class="a" style="left:119.1px;top:396.3px;width:1.2px;height:154.0px;background:#BDBDBD"></div>
<div id="s2" class="a" style="left:121.70px;top:395.45px;font-size:10px;line-height:13px;letter-spacing:-0.037px;color:#333;">３０代以下</div>
<div id="s3" class="a" style="left:122.70px;top:410.42px;font-size:10px;line-height:13px;letter-spacing:-0.500px;color:#333;">４０代</div>
<div id="s4" class="a" style="left:121.70px;top:423.88px;font-size:10px;line-height:13px;letter-spacing:0.000px;color:#333;">５０代</div>
<div id="s5" class="a" style="left:122.70px;top:438.15px;font-size:10px;line-height:13px;letter-spacing:-0.287px;color:#333;">６０代以上</div>
<div id="s6" class="a" style="left:121.55px;top:452.62px;font-size:10px;line-height:13px;letter-spacing:-1.850px;color:#333;">大都市エリア</div>
<div id="s7" class="a" style="left:122.55px;top:465.67px;font-size:10px;line-height:13px;letter-spacing:-2.325px;color:#333;">地方エリア</div>
<div id="s8" class="a" style="left:121.65px;top:480.38px;font-size:10px;line-height:13px;letter-spacing:-0.380px;color:#333;">５０万円未満</div>
<div id="s9a" class="a" style="left:120.60px;top:495.25px;font-size:10px;line-height:13px;letter-spacing:-2.300px;color:#333;">５０～３００</div>
<div id="s9b" class="a" style="left:167.60px;top:495.25px;font-size:8px;line-height:13px;letter-spacing:-1.000px;color:#333;">万円未満</div>
<div id="s10" class="a" style="left:121.65px;top:507.58px;font-size:10px;line-height:13px;letter-spacing:-0.175px;color:#333;">３００万円以上</div>
<div id="s11" class="a" style="left:122.70px;top:522.53px;font-size:10px;line-height:13px;letter-spacing:-1.210px;color:#333;">実施経験あり</div>
<div id="s12" class="a" style="left:122.70px;top:535.32px;font-size:10px;line-height:13px;letter-spacing:-0.830px;color:#333;">実施経験なし</div>
<div class="gc" style="left:93.20px;top:404.20px">年</div>
<div class="gc" style="left:93.20px;top:416.40px">代</div>
<div class="gc" style="left:93.20px;top:428.60px">別</div>
<div class="gc" style="left:98.50px;top:452.90px">居</div>
<div class="gc" style="left:98.50px;top:464.90px">住</div>
<div class="gc" style="left:87.40px;top:452.90px">地</div>
<div class="gc" style="left:87.40px;top:464.90px">別</div>
<div class="gc" style="left:93.10px;top:481.70px">予</div>
<div class="gc" style="left:93.10px;top:493.95px">算</div>
<div class="gc" style="left:93.10px;top:506.20px">別</div>
<div class="gc" style="left:98.80px;top:523.10px">経</div>
<div class="gc" style="left:98.80px;top:535.10px">験</div>
<div class="gc" style="left:87.10px;top:529.40px">別</div>
<div id="note" class="a" style="left:219.45px;top:554.65px;font-size:11.5px;line-height:14px;letter-spacing:-0.617px;color:#222;">注.　年代別・居住地別・予算別・経験別の数値は「あてはまるもの」に対する回答の数値</div>
</body></html>
